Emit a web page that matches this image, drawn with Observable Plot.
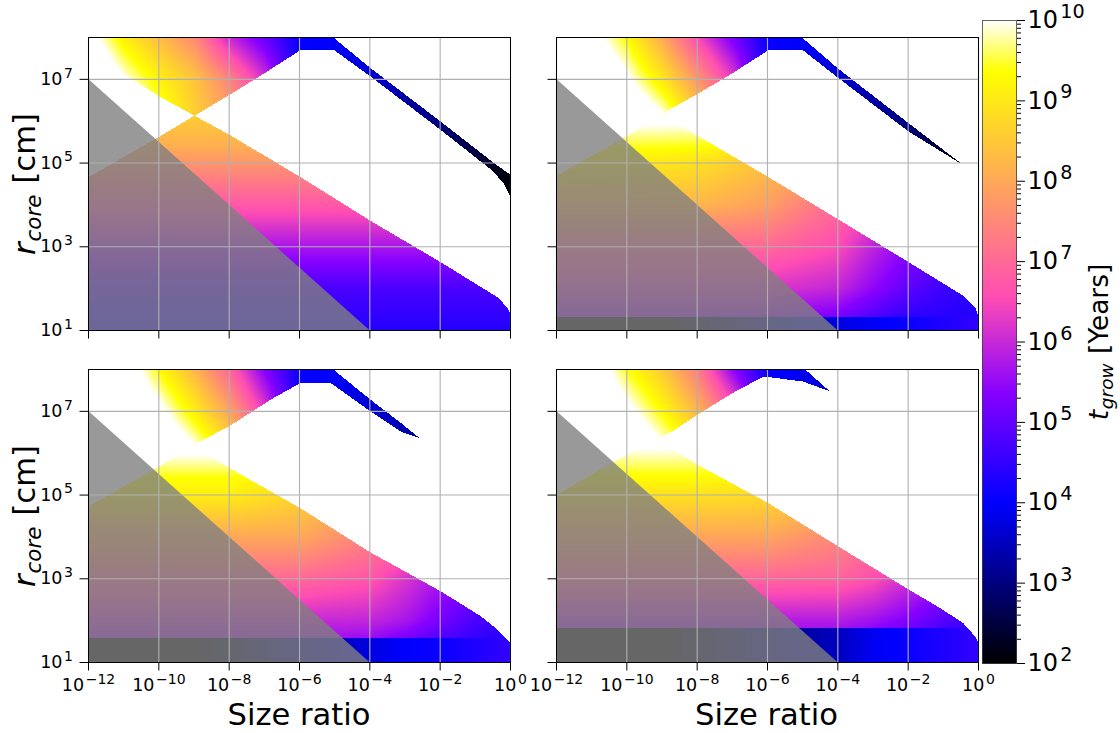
<!DOCTYPE html>
<html><head><meta charset="utf-8">
<script src="https://cdn.jsdelivr.net/npm/d3@7"></script>
<script src="https://cdn.jsdelivr.net/npm/@observablehq/plot@0.6"></script>
<style>
html,body{margin:0;padding:0;background:#fff;width:1120px;height:733px;overflow:hidden;font-family:"DejaVu Sans",sans-serif;color:#000}
#fig{position:relative;width:1120px;height:733px}
#fig>svg{position:absolute;overflow:visible;background:transparent;max-width:none}
.lab{position:absolute;white-space:nowrap;line-height:1;color:#000}
.rot{transform:translate(-50%,-50%) rotate(-90deg);transform-origin:center}
.lab sub{font-size:70%;font-style:italic;vertical-align:baseline;position:relative;top:.28em;margin:0 .06em 0 .04em}
</style></head><body><div id="fig"></div>
<script>
// gnuplot2-like colour stops: log10(t) → colour
const colorStops=[2,4,5.36,6.56,9.36,10];
const colorHex=["#000000","#0000ff","#8700ff","#ff4db3","#ffff00","#ffffff"];
const xTicks=[1e-12,1e-10,1e-8,1e-6,1e-4,1e-2,1];
const yTicks=[1e1,1e3,1e5,1e7];
const cbTicks=[1e2,1e3,1e4,1e5,1e6,1e7,1e8,1e9,1e10];
const cbMinorMult=[2,3,4,5,6,7,8,9];
const triangleX=[1e-12,1e-4];
const triangleY=[1e7,1e1];

// lower band: log t on a log-x / log-y control grid
const lowerXs=[-12,-10,-8,-6,-4,-3,-2,-1,0];
const lowerYs=[1,2,3,4,5,5.4,6];
const lowerA=[
[4.35,4.35,4.35,4.35,4.35,4.35,4.35,4.35,4.35],
[4.75,4.75,4.75,4.75,4.75,4.75,4.75,4.75,4.75],
[5.7,5.7,5.7,5.7,5.7,5.7,5.7,5.7,5.7],
[6.75,6.75,6.75,6.75,6.75,6.75,6.75,6.75,6.75],
[7.7,7.7,7.7,7.7,7.7,7.7,7.7,7.7,7.7],
[8.1,8.1,8.1,8.1,8.1,8.1,8.1,8.1,8.1],
[8.5,8.5,8.5,8.5,8.5,8.5,8.5,8.5,8.5]];
const lowerB=[
[5.3,5.3,5.3,5.2,4.9,4.5,4.2,4.3,4.3],
[6.2,6.2,6.2,6.2,5.95,5.45,4.95,4.6,4.4],
[7,7,7,7,6.55,5.9,5.4,5,4.8],
[8.2,8.2,8.2,7.85,7,6.5,6,5.5,5],
[9.1,9.05,8.9,8.4,8,7.5,7,6.5,6],
[9.46,9.46,9.4,9,8.5,8,7.5,7,6.5],
[10.1,10.1,10.1,9.6,9,8.5,8,7.5,7]];
const lowerC=[
[5.3,5.3,5.3,5.3,5,4.6,4.3,4.2,4.2],
[6,6,6,6,5.95,5.7,5.2,4.75,4.5],
[7,7,7,7,6.7,6.2,5.7,5.2,4.8],
[8,8,8,8,7.4,7,6.5,6,5.5],
[9.1,9.1,9.1,8.7,8.2,7.8,7.2,6.6,6],
[9.37,9.37,9.37,9.1,8.6,8.1,7.6,7,6.5],
[10.05,10.05,10.05,9.7,9,8.5,8,7.5,7]];
const lowerD=[
[5,5,5,5,5,4.7,4.4,4.2,4.2],
[5.8,5.8,5.8,5.8,5.8,5.6,5.3,4.85,4.5],
[6.95,6.95,6.95,6.95,6.9,6.6,6.1,5.6,5.2],
[7.95,7.95,7.95,7.95,7.5,7.2,6.8,6.3,5.8],
[8.9,8.9,8.9,8.8,8.4,8,7.5,7,6.5],
[9.3,9.3,9.3,9.2,8.8,8.4,8,7.5,7],
[9.9,9.9,9.9,9.6,9.2,8.8,8.4,8,7.5]];

// upper wedge and tail
const upperXs=[-12,-11,-10,-9,-8,-7,-6,-5,-4,-3,-2,-1,0];
const upperYs=[4,6,7,8];
const upperA=[
[12,11,9.8,8.6,8,7,4.05,3.95,3.65,3.3,2.95,2.5,2.05],
[12,11,9.8,8.6,8,7,4.05,3.95,3.65,3.3,2.95,2.5,2.05],
[11,10,9.15,8.45,7.4,6.1,4.05,3.95,3.65,3.3,2.95,2.5,2.05],
[10.3,9.1,8.3,7.5,5.95,5,4.05,3.95,3.65,3.3,2.95,2.5,2.05]];
const upperB=[
[12,12,11,10.2,8.7,7.4,4.05,3.95,3.65,3.3,2.95,2.4,2],
[12,12,11,10.2,8.7,7.4,4.05,3.95,3.65,3.3,2.95,2.4,2],
[12,11,10.1,9,7.7,6.3,4.05,3.95,3.65,3.3,2.95,2.4,2],
[11.2,10.3,9.3,8,6.5,5.2,4.1,3.95,3.65,3.3,2.95,2.4,2]];
const upperC=[
[12,12,11,10.2,9,7.4,4.05,3.95,3.65,3.4,3.2,3,3],
[12,12,11,10.2,9,7.4,4.05,3.95,3.65,3.4,3.2,3,3],
[12,11,10.2,9.1,7.9,6.3,4.05,3.95,3.65,3.4,3.2,3,3],
[11.5,10.6,9.3,8.2,6.9,5.3,4.1,3.95,3.65,3.4,3.2,3,3]];
const upperD=[
[12,12,11,10.2,9.2,7.6,4.05,3.85,3.65,3.5,3.5,3.5,3.5],
[12,12,11,10.2,9.2,7.6,4.05,3.85,3.65,3.5,3.5,3.5,3.5],
[12,11,10.2,9.3,8.2,6.8,4.05,3.85,3.65,3.5,3.5,3.5,3.5],
[11.5,10.6,9.4,8.5,7.3,5.4,4.1,3.85,3.65,3.5,3.5,3.5,3.5]];

// strip along the bottom of three panels
const stripXs=[-12,-9,-7,-6,-5,-4,-3,-2,-1,0];
const stripB=[1.5,2,2.8,3.2,3.6,3.75,3.95,4.1,4.3,4.5];
const stripC=[1.5,2,2.8,3.2,3.5,3.75,4,4.1,4.3,4.5];
const stripD=[1.5,2,2.7,3.1,3.3,3.5,3.9,4.1,4.3,4.5];
const stripTopB=1.30, stripTopC=1.58, stripTopD=1.81;

// region edges (log10 x, log10 y)
const bandEdgeXA=[-12,-10,-9,-8,-6,-4,-2,-0.38,-0.12,0];
const bandEdgeYA=[4.66,5.62,6.12,5.66,4.66,3.61,2.62,1.78,1.55,1.38];
const wedgeBottomXA=[-12,-11.3,-11,-10,-9,-8,-7,-6,-5.02,-4,-2,-0.55,-0.2,0];
const wedgeBottomYA=[8,7.38,7.1,6.58,6.12,6.62,7.14,7.68,7.68,7.06,5.78,4.82,4.5,4.14];
const wedgeTopXA=[-12,-5.07,-4,-2,-0.47,0];
const wedgeTopYA=[8,8,7.26,5.98,4.98,4.7];

const bandEdgeXB=[-12,-10,-9.47,-8.57,-8,-6,-4,-2,-0.45,-0.11,0];
const bandEdgeYB=[4.69,5.64,5.92,5.92,5.64,4.66,3.64,2.62,1.82,1.54,1.3];
const wedgeBottomXB=[-8.9,-8,-7,-6,-5,-4,-2,-0.45];
const wedgeBottomYB=[6.22,6.64,7.14,7.68,7.68,7.02,5.74,4.94];
const wedgeTopXB=[-12,-5.05,-4,-2,-0.45];
const wedgeTopYB=[8,8,7.24,5.94,4.94];

const bandEdgeXC=[-12,-10,-9.49,-8.63,-8,-6,-4,-2,-0.85,-0.38,0];
const bandEdgeYC=[4.72,5.67,5.95,5.95,5.63,4.68,3.62,2.69,2.09,1.77,1.45];
const wedgeBottomXC=[-8.92,-8.02,-6.83,-6,-5.12,-4,-3.13,-2.6];
const wedgeBottomYC=[6.23,6.63,7.27,7.66,7.66,6.99,6.5,6.35];
const wedgeTopXC=[-12,-5.07,-4,-3.13,-2.6];
const wedgeTopYC=[8,8,7.27,6.71,6.35];

const bandEdgeXD=[-12,-10.37,-9.66,-8.76,-8,-6,-4,-2,-1.11,-0.45,-0.11,0];
const bandEdgeYD=[5,5.79,6.11,6.11,5.71,4.8,3.76,2.73,2.29,1.93,1.61,1.45];
const wedgeBottomXD=[-9.05,-8.71,-8,-7,-6.15,-6,-5,-4.25];
const wedgeBottomYD=[6.37,6.51,6.91,7.43,7.81,7.81,7.7,7.47];
const wedgeTopXD=[-12,-4.96,-4.25];
const wedgeTopYD=[8,8,7.47];

const along=(xs,ys,x)=>{
  if(x<xs[0]||x>xs[xs.length-1])return NaN;
  let i=d3.bisectRight(xs,x)-1; if(i>=xs.length-1)i=xs.length-2;
  const f=(x-xs[i])/(xs[i+1]-xs[i]); return ys[i]+f*(ys[i+1]-ys[i]);
};
const grid=(xs,ys,m,x,y)=>{
  let i=Math.max(0,Math.min(xs.length-2,d3.bisectRight(xs,x)-1));
  let j=Math.max(0,Math.min(ys.length-2,d3.bisectRight(ys,y)-1));
  const fx=(x-xs[i])/(xs[i+1]-xs[i]),fy=(y-ys[j])/(ys[j+1]-ys[j]);
  return (1-fy)*((1-fx)*m[j][i]+fx*m[j][i+1])+fy*((1-fx)*m[j+1][i]+fx*m[j+1][i+1]);
};
const fig=document.getElementById("fig");
const colorOpt={type:"linear",domain:colorStops,range:colorHex,clamp:true};
const EMPTY=10; // above the range: the colour scale's white end
const expFmt=d=>"10"+String(Math.round(Math.log10(d))).replace("-","\u2212");
function sup(svg,size){
  svg.querySelectorAll("text").forEach(t=>{
    const s=t.textContent;
    if(!/^10/.test(s))return;
    t.textContent="";
    const ns="http://www.w3.org/2000/svg";
    const a=document.createElementNS(ns,"tspan");a.textContent="10";
    const b=document.createElementNS(ns,"tspan");b.textContent=s.slice(2);
    b.setAttribute("dy",(-size*0.42).toFixed(1));b.setAttribute("dx",(size*0.09).toFixed(1));b.setAttribute("font-size",(size*0.8).toFixed(1));
    t.append(a,b);
  });
}
function panel(left,top,opt){
  const mL=60,mT=6,mR=40,mB=40,W=422,H=293;
  const field=(xv,yv)=>{
    const lx=Math.log10(xv),ly=Math.log10(yv);
    const be=along(opt.bandX,opt.bandY,lx);
    if(ly<=be){
      if(opt.strip&&ly<opt.stripTop) return along(stripXs,opt.strip,lx);
      return grid(lowerXs,lowerYs,opt.lower,lx,ly);
    }
    const wb=along(opt.wbX,opt.wbY,lx),wt=along(opt.wtX,opt.wtY,lx);
    if(lx<opt.wbX[0]) return (ly<=wt)?Math.min(10,grid(upperXs,upperYs,opt.upper,lx,ly)):EMPTY;
    if(ly>=wb&&ly<=wt) return grid(upperXs,upperYs,opt.upper,lx,ly);
    return EMPTY;
  };
  const p=Plot.plot({
    width:W+mL+mR,height:H+mT+mB,marginLeft:mL,marginTop:mT,marginRight:mR,marginBottom:mB,
    style:{background:"transparent",overflow:"visible",fontFamily:"DejaVu Sans"},
    x:{type:"log",domain:[1e-12,1],axis:null},
    y:{type:"log",domain:[1e1,1e8],axis:null},
    color:colorOpt,
    marks:[
      Plot.raster({fill:field,x1:1e-12,x2:1,y1:1e1,y2:1e8,pixelSize:1,imageRendering:"pixelated"}),
      Plot.areaY(triangleX.map((x,i)=>({x,y:triangleY[i]})),{x:"x",y1:()=>1e1,y2:"y",fill:"#808080",fillOpacity:0.8}),
      Plot.ruleX(xTicks,{stroke:"#b0b0b0",strokeWidth:1.1}),
      Plot.ruleY(yTicks,{stroke:"#b0b0b0",strokeWidth:1.1}),
      Plot.axisX(xTicks,{anchor:"bottom",tickSize:8.5,tickPadding:8,fontSize:17.5,label:null,tickFormat:opt.xLabels?expFmt:()=>"",stroke:"#000"}),
      Plot.axisY(yTicks,{anchor:"left",tickSize:8.5,tickPadding:7,fontSize:17.5,label:null,tickFormat:opt.yLabels?expFmt:()=>"",stroke:"#000"}),
      Plot.frame({stroke:"#000",strokeWidth:1})
    ]
  });
  p.style.left=(left-mL)+"px";p.style.top=(top-mT)+"px";
  sup(p,17.5);
  fig.appendChild(p);
}
panel(88,37,{lower:lowerA,upper:upperA,bandX:bandEdgeXA,bandY:bandEdgeYA,wbX:wedgeBottomXA,wbY:wedgeBottomYA,wtX:wedgeTopXA,wtY:wedgeTopYA,yLabels:true});
panel(556,37,{lower:lowerB,upper:upperB,bandX:bandEdgeXB,bandY:bandEdgeYB,wbX:wedgeBottomXB,wbY:wedgeBottomYB,wtX:wedgeTopXB,wtY:wedgeTopYB,strip:stripB,stripTop:stripTopB});
panel(88,369,{lower:lowerC,upper:upperC,bandX:bandEdgeXC,bandY:bandEdgeYC,wbX:wedgeBottomXC,wbY:wedgeBottomYC,wtX:wedgeTopXC,wtY:wedgeTopYC,strip:stripC,stripTop:stripTopC,xLabels:true,yLabels:true});
panel(556,369,{lower:lowerD,upper:upperD,bandX:bandEdgeXD,bandY:bandEdgeYD,wbX:wedgeBottomXD,wbY:wedgeBottomYD,wtX:wedgeTopXD,wtY:wedgeTopYD,strip:stripD,stripTop:stripTopD,xLabels:true});

// colour bar
const minor=cbTicks.slice(0,-1).flatMap(d=>cbMinorMult.map(m=>d*m));
const cb=Plot.plot({
  width:34+100,height:643+20,marginLeft:0,marginRight:100,marginTop:10,marginBottom:10,
  style:{background:"transparent",overflow:"visible",fontFamily:"DejaVu Sans"},
  x:{domain:[0,1],axis:null},
  y:{type:"log",domain:[1e2,1e10],axis:null},
  color:colorOpt,
  marks:[
    Plot.raster({fill:(x,y)=>Math.log10(y),x1:0,x2:1,y1:1e2,y2:1e10,pixelSize:1,imageRendering:"pixelated"}),
    Plot.axisY(minor,{anchor:"right",tickSize:4,tickFormat:()=>"",label:null,stroke:"#000"}),
    Plot.axisY(cbTicks,{anchor:"right",tickSize:8,tickPadding:3,fontSize:24,textAnchor:"start",label:null,tickFormat:expFmt,stroke:"#000"}),
    Plot.frame({stroke:"#000",strokeOpacity:0.6,strokeWidth:1})
  ]
});
cb.style.left="982px";cb.style.top="10px";
sup(cb,24);
fig.appendChild(cb);

function lab(html,cx,cy,size,rot){
  const d=document.createElement("div");d.className="lab"+(rot?" rot":"");
  d.innerHTML=html;d.style.fontSize=size+"px";d.style.left=cx+"px";d.style.top=cy+"px";
  if(!rot)d.style.transform="translate(-50%,-50%)";
  fig.appendChild(d);
}
lab("Size ratio",299,715,30.6,false);
lab("Size ratio",766.5,715,30.6,false);
lab("<i>r</i><sub>core</sub> [cm]",25,184,30.6,true);
lab("<i>r</i><sub>core</sub> [cm]",25,516,30.6,true);
lab("<i>t</i><sub>grow</sub> [Years]",1099,342,26.4,true);
</script></body></html>
